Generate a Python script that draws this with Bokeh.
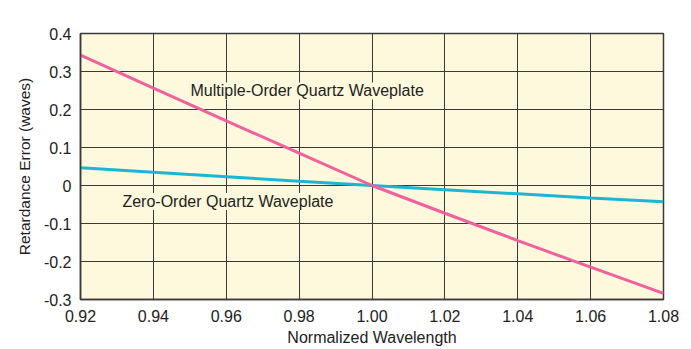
from bokeh.plotting import figure
from bokeh.models import FixedTicker, Label, Range1d
from bokeh.embed import file_html
from bokeh.resources import INLINE

wavelength = [0.92, 0.94, 0.96, 0.98, 1.00, 1.02, 1.04, 1.06, 1.08]
multi_order = [0.343, 0.256, 0.170, 0.085, 0.0, -0.073, -0.145, -0.215, -0.284]
zero_order = [0.047, 0.035, 0.023, 0.011, 0.0, -0.011, -0.022, -0.033, -0.043]

x_ticks = [0.92, 0.94, 0.96, 0.98, 1.00, 1.02, 1.04, 1.06, 1.08]
x_labels = ["0.92", "0.94", "0.96", "0.98", "1.00", "1.02", "1.04", "1.06", "1.08"]
y_ticks = [-0.3, -0.2, -0.1, 0.0, 0.1, 0.2, 0.3, 0.4]
y_labels = ["-0.3", "-0.2", "-0.1", "0", "0.1", "0.2", "0.3", "0.4"]

FONT = "Liberation Sans"
BG = "#FEF9DC"
GRID = "#3a3a3a"
TXT = "#222222"

p = figure(width=691, height=349, output_backend="svg", toolbar_location=None,
           x_range=Range1d(0.92, 1.08), y_range=Range1d(-0.3, 0.4),
           min_border_left=80, min_border_right=28, min_border_top=33, min_border_bottom=50)
p.background_fill_color = BG
p.border_fill_color = "white"
p.outline_line_color = GRID
p.outline_line_width = 1.5

for ax in (p.xaxis[0], p.yaxis[0]):
    ax.major_tick_out = 0
    ax.major_tick_in = 0
    ax.minor_tick_out = 0
    ax.minor_tick_in = 0
    ax.axis_line_color = GRID
    ax.axis_line_width = 1.5
    ax.major_label_text_font = FONT
    ax.major_label_text_font_size = "16px"
    ax.major_label_text_color = TXT
    ax.axis_label_text_font = FONT
    ax.axis_label_text_font_style = "normal"
    ax.axis_label_text_color = TXT

p.xaxis.axis_label_text_font_size = "16px"
p.yaxis.axis_label_text_font_size = "15.5px"

p.xaxis.ticker = FixedTicker(ticks=x_ticks)
p.yaxis.ticker = FixedTicker(ticks=y_ticks)
p.xaxis.major_label_overrides = {t: l for t, l in zip(x_ticks, x_labels)}
p.yaxis.major_label_overrides = {t: l for t, l in zip(y_ticks, y_labels)}
p.xaxis.axis_label = "Normalized Wavelength"
p.yaxis.axis_label = "Retardance Error (waves)"
p.xaxis.major_label_standoff = 10
p.yaxis.major_label_standoff = 9
p.xaxis.axis_label_standoff = 4
p.yaxis.axis_label_standoff = 8

p.xgrid.ticker = FixedTicker(ticks=x_ticks)
p.ygrid.ticker = FixedTicker(ticks=y_ticks)
p.grid.grid_line_color = GRID
p.grid.grid_line_width = 1

p.line(wavelength, zero_order, line_color="#1BB5D5", line_width=3)
p.line(wavelength, multi_order, line_color="#F2609E", line_width=3)

p.add_layout(Label(x=0.9502, y=0.249, text="Multiple-Order Quartz Waveplate",
                   text_font=FONT, text_font_size="16px", text_color=TXT,
                   text_baseline="middle", background_fill_color=BG))
p.add_layout(Label(x=0.9315, y=-0.042, text="Zero-Order Quartz Waveplate",
                   text_font=FONT, text_font_size="16px", text_color=TXT,
                   text_baseline="middle", background_fill_color=BG))
p.add_layout(Label(x=1.08, y=0.4, y_offset=9, text="Typical", text_align="right",
                   text_font=FONT, text_font_size="15px", text_color=TXT,
                   text_baseline="bottom"))

open("out.html", "w").write(file_html(p, INLINE))
